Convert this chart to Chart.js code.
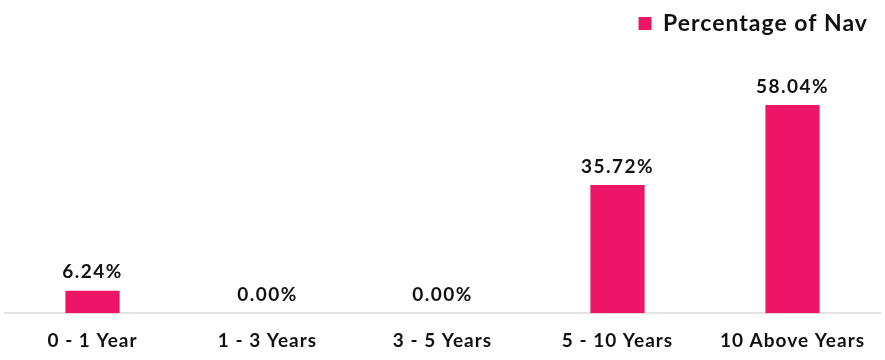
<!DOCTYPE html>
<html>
<head>
<meta charset="utf-8">
<script src="https://cdn.jsdelivr.net/npm/chart.js@4"></script>
<style>
    html, body { margin: 0; padding: 0; background: #ffffff; }
    #wrap { width: 885px; height: 360px; }
</style>
</head>
<body>
<div id="wrap"><canvas id="navChart"></canvas></div>
<script>
// Chart data
const categories = ['0 - 1 Year', '1 - 3 Years', '3 - 5 Years', '5 - 10 Years', '10 Above Years'];
const navShare = [6.24, 0.00, 0.00, 35.72, 58.04];
const seriesName = 'Percentage of Nav';

const BAR_COLOR = '#ee1566';
const FONT = 'Lato, "Open Sans", sans-serif';

// the reference text is slightly tracked out
const spacing = {
    id: 'spacing',
    beforeLayout(chart) { chart.ctx.letterSpacing = '1px'; },
    beforeDraw(chart) { chart.ctx.letterSpacing = '1px'; }
};

// draws the value above each bar
const valueLabels = {
    id: 'valueLabels',
    afterDatasetsDraw(chart) {
        const { ctx } = chart;
        const meta = chart.getDatasetMeta(0);
        ctx.save();
        ctx.letterSpacing = '1.5px';
        ctx.font = `bold 19px ${FONT}`;
        ctx.fillStyle = '#111111';
        ctx.textAlign = 'center';
        ctx.textBaseline = 'bottom';
        meta.data.forEach((bar, i) => {
            const v = chart.data.datasets[0].data[i];
            ctx.fillText(v.toFixed(2) + '%', bar.x, bar.y - 9);
        });
        ctx.restore();
    }
};

new Chart(document.getElementById('navChart'), {
    type: 'bar',
    data: {
        labels: categories,
        datasets: [{
            label: seriesName,
            data: navShare,
            backgroundColor: BAR_COLOR,
            borderWidth: 0,
            categoryPercentage: 1,
            barPercentage: 0.31
        }]
    },
    options: {
        responsive: true,
        maintainAspectRatio: false,
        animation: false,
        layout: { padding: { left: 5, right: 5, top: 0, bottom: 0 } },
        scales: {
            x: {
                grid: { display: false },
                border: { display: true, color: '#e3e3e3', width: 2 },
                ticks: {
                    color: '#111111',
                    font: { family: FONT, size: 19, weight: 'bold' },
                    padding: 8
                }
            },
            y: {
                display: false,
                min: 0,
                max: 74.8
            }
        },
        plugins: {
            legend: {
                position: 'top',
                align: 'end',
                labels: {
                    color: '#111111',
                    font: { family: FONT, size: 23, weight: 'bold' },
                    boxWidth: 13,
                    boxHeight: 13,
                    padding: 12
                }
            },
            tooltip: { enabled: false }
        }
    },
    plugins: [spacing, valueLabels]
});
</script>
</body>
</html>
